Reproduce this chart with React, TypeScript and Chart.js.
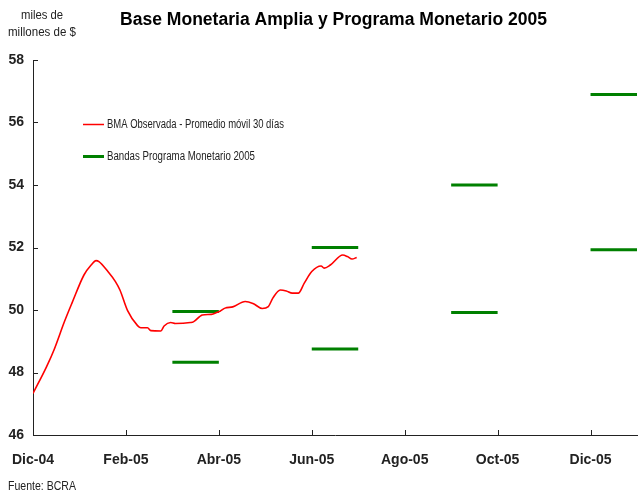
import React, { useEffect, useRef } from "react";
import { Chart, registerables } from "chart.js";

Chart.register(...registerables);

// BMA observada - promedio móvil 30 días (miles de millones de $)
const bmaDates = [
  "2004-12-01", "2004-12-10", "2004-12-15", "2004-12-22", "2004-12-27",
  "2005-01-04", "2005-01-09", "2005-01-12", "2005-01-14", "2005-01-20", "2005-01-25", "2005-01-28",
  "2005-02-02", "2005-02-08", "2005-02-10", "2005-02-14", "2005-02-16", "2005-02-22", "2005-02-24", "2005-02-28",
  "2005-03-03", "2005-03-13", "2005-03-15", "2005-03-21", "2005-03-27", "2005-03-31",
  "2005-04-02", "2005-04-05", "2005-04-10", "2005-04-18", "2005-04-23", "2005-04-29",
  "2005-05-03", "2005-05-06", "2005-05-11", "2005-05-15", "2005-05-19", "2005-05-23", "2005-05-27",
  "2005-06-01", "2005-06-07", "2005-06-09", "2005-06-13", "2005-06-21", "2005-06-24", "2005-06-27", "2005-06-30",
];
const bmaValues = [
  47.33, 48.18, 48.72, 49.63, 50.22,
  51.12, 51.45, 51.58, 51.55, 51.23, 50.91, 50.64,
  49.98, 49.5, 49.43, 49.43, 49.34, 49.33, 49.49, 49.6,
  49.57, 49.6, 49.62, 49.84, 49.86, 49.93,
  49.97, 50.06, 50.1, 50.27, 50.21, 50.05,
  50.11, 50.38, 50.64, 50.61, 50.54, 50.54, 50.86,
  51.23, 51.41, 51.34, 51.44, 51.76, 51.71, 51.63, 51.68,
];

// Bandas Programa Monetario 2005 (mes de vigencia)
const bandMonths = ["2005-03", "2005-06", "2005-09", "2005-12"];
const bandUpper = [49.95, 52.0, 54.0, 56.9];
const bandLower = [48.33, 48.75, 49.92, 51.93];

// Eje X
const tickMonthKeys = ["2004-12", "2005-02", "2005-04", "2005-06", "2005-08", "2005-10", "2005-12"];
const tickLabels = ["Dic-04", "Feb-05", "Abr-05", "Jun-05", "Ago-05", "Oct-05", "Dic-05"];
const axisEndMonth = "2006-01";

const yTicks = [46, 48, 50, 52, 54, 56, 58];

const TITLE = "Base Monetaria Amplia y Programa Monetario 2005";
const UNIT_LINES = ["miles de", "millones de $"];
const SOURCE = "Fuente: BCRA";
const LEGEND = [
  { label: "BMA Observada - Promedio móvil 30 días", color: "#ff0000", width: 1.5, maxW: 177 },
  { label: "Bandas Programa Monetario 2005", color: "#008000", width: 3, maxW: 148 },
];

const FONT = "'Liberation Sans', Arial, sans-serif";

function monthIndex(key: string): number {
  const [y, m] = key.split("-").map(Number);
  return (y - 2004) * 12 + (m - 1) - 11;
}
function dateIndex(s: string): number {
  const [y, m, d] = s.split("-").map(Number);
  const days = new Date(y, m, 0).getDate();
  return monthIndex(`${y}-${m}`) + (d - 1) / days;
}

export default function App() {
  const ref = useRef<HTMLCanvasElement | null>(null);

  useEffect(() => {
    document.body.style.margin = "0";
    const canvas = ref.current;
    if (!canvas) return;

    const bmaData = bmaDates.map((d, i) => ({ x: dateIndex(d), y: bmaValues[i] }));
    const bandData: { x: number; y: number | null }[] = [];
    bandMonths.forEach((k, i) => {
      const s = monthIndex(k);
      bandData.push({ x: s, y: bandUpper[i] }, { x: s + 1, y: bandUpper[i] }, { x: s + 1, y: null });
      bandData.push({ x: s, y: bandLower[i] }, { x: s + 1, y: bandLower[i] }, { x: s + 1, y: null });
    });
    const tickVals = tickMonthKeys.map(monthIndex);

    const decor = {
      id: "decor",
      afterDraw(chart: any) {
        const ctx = chart.ctx as CanvasRenderingContext2D;
        const { left, bottom } = chart.chartArea;
        const xs = chart.scales.x;
        const ys = chart.scales.y;
        ctx.save();
        // inside tick marks
        ctx.strokeStyle = "#222";
        ctx.lineWidth = 1;
        ctx.beginPath();
        yTicks.forEach((v) => {
          const py = Math.round(ys.getPixelForValue(v)) + 0.5;
          ctx.moveTo(left, py);
          ctx.lineTo(left + 5, py);
        });
        tickVals.forEach((v) => {
          const px = Math.round(xs.getPixelForValue(v)) + 0.5;
          ctx.moveTo(px, bottom);
          ctx.lineTo(px, bottom - 5);
        });
        ctx.stroke();

        // title
        ctx.fillStyle = "#000";
        ctx.textBaseline = "middle";
        ctx.textAlign = "center";
        ctx.font = `bold 18px ${FONT}`;
        ctx.fillText(TITLE, 333.5, 20, 427);

        // unit
        ctx.fillStyle = "#222";
        ctx.font = `12px ${FONT}`;
        ctx.fillText(UNIT_LINES[0], 42, 16, 42);
        ctx.fillText(UNIT_LINES[1], 42, 33, 68);

        // source
        ctx.textAlign = "left";
        ctx.font = `13px ${FONT}`;
        ctx.fillText(SOURCE, 8, 486, 68);

        // legend
        ctx.font = `12.5px ${FONT}`;
        LEGEND.forEach((it, i) => {
          const y = 124 + i * 32;
          ctx.strokeStyle = it.color;
          ctx.lineWidth = it.width;
          ctx.beginPath();
          ctx.moveTo(83, y + 0.5);
          ctx.lineTo(104, y + 0.5);
          ctx.stroke();
          ctx.fillStyle = "#222";
          ctx.fillText(it.label, 107, y + 1, it.maxW);
        });
        ctx.restore();
      },
    };

    const chart = new Chart(canvas, {
      type: "line",
      data: {
        datasets: [
          {
            label: LEGEND[0].label,
            data: bmaData,
            borderColor: "#ff0000",
            borderWidth: 1.6,
            pointRadius: 0,
            cubicInterpolationMode: "monotone",
            fill: false,
          },
          {
            label: LEGEND[1].label,
            data: bandData as any,
            borderColor: "#008000",
            borderWidth: 3,
            pointRadius: 0,
            spanGaps: false,
            tension: 0,
            fill: false,
          },
        ],
      },
      options: {
        animation: false,
        responsive: false,
        layout: { padding: { left: 0, right: 1, top: 60, bottom: 22 } },
        plugins: {
          legend: { display: false },
          title: { display: false },
          tooltip: { enabled: false },
        },
        scales: {
          x: {
            type: "linear",
            min: 0,
            max: monthIndex(axisEndMonth),
            grid: { display: false, drawTicks: false },
            border: { display: true, color: "#222", width: 1 },
            afterBuildTicks: (s: any) => {
              s.ticks = tickVals.map((v) => ({ value: v }));
            },
            afterFit: (s: any) => {
              s.height = 35;
              s.paddingLeft = 0;
              s.paddingRight = 0;
            },
            ticks: {
              padding: 17,
              maxRotation: 0,
              autoSkip: false,
              color: "#222",
              font: { family: FONT, size: 14, weight: "bold" },
              callback: (v: any) => {
                const i = tickVals.indexOf(Number(v));
                return i >= 0 ? tickLabels[i] : "";
              },
            },
          },
          y: {
            min: 46,
            max: 58,
            grid: { display: false, drawTicks: false },
            border: { display: true, color: "#222", width: 1 },
            afterBuildTicks: (s: any) => {
              s.ticks = yTicks.map((v) => ({ value: v }));
            },
            afterFit: (s: any) => {
              s.width = 33;
            },
            ticks: {
              padding: 9,
              color: "#222",
              font: { family: FONT, size: 14, weight: "bold" },
            },
          },
        },
      },
      plugins: [decor],
    });

    return () => chart.destroy();
  }, []);

  return (
    <div style={{ width: 638, height: 492, background: "#fff" }}>
      <canvas ref={ref} width={638} height={492} style={{ display: "block" }} />
    </div>
  );
}
